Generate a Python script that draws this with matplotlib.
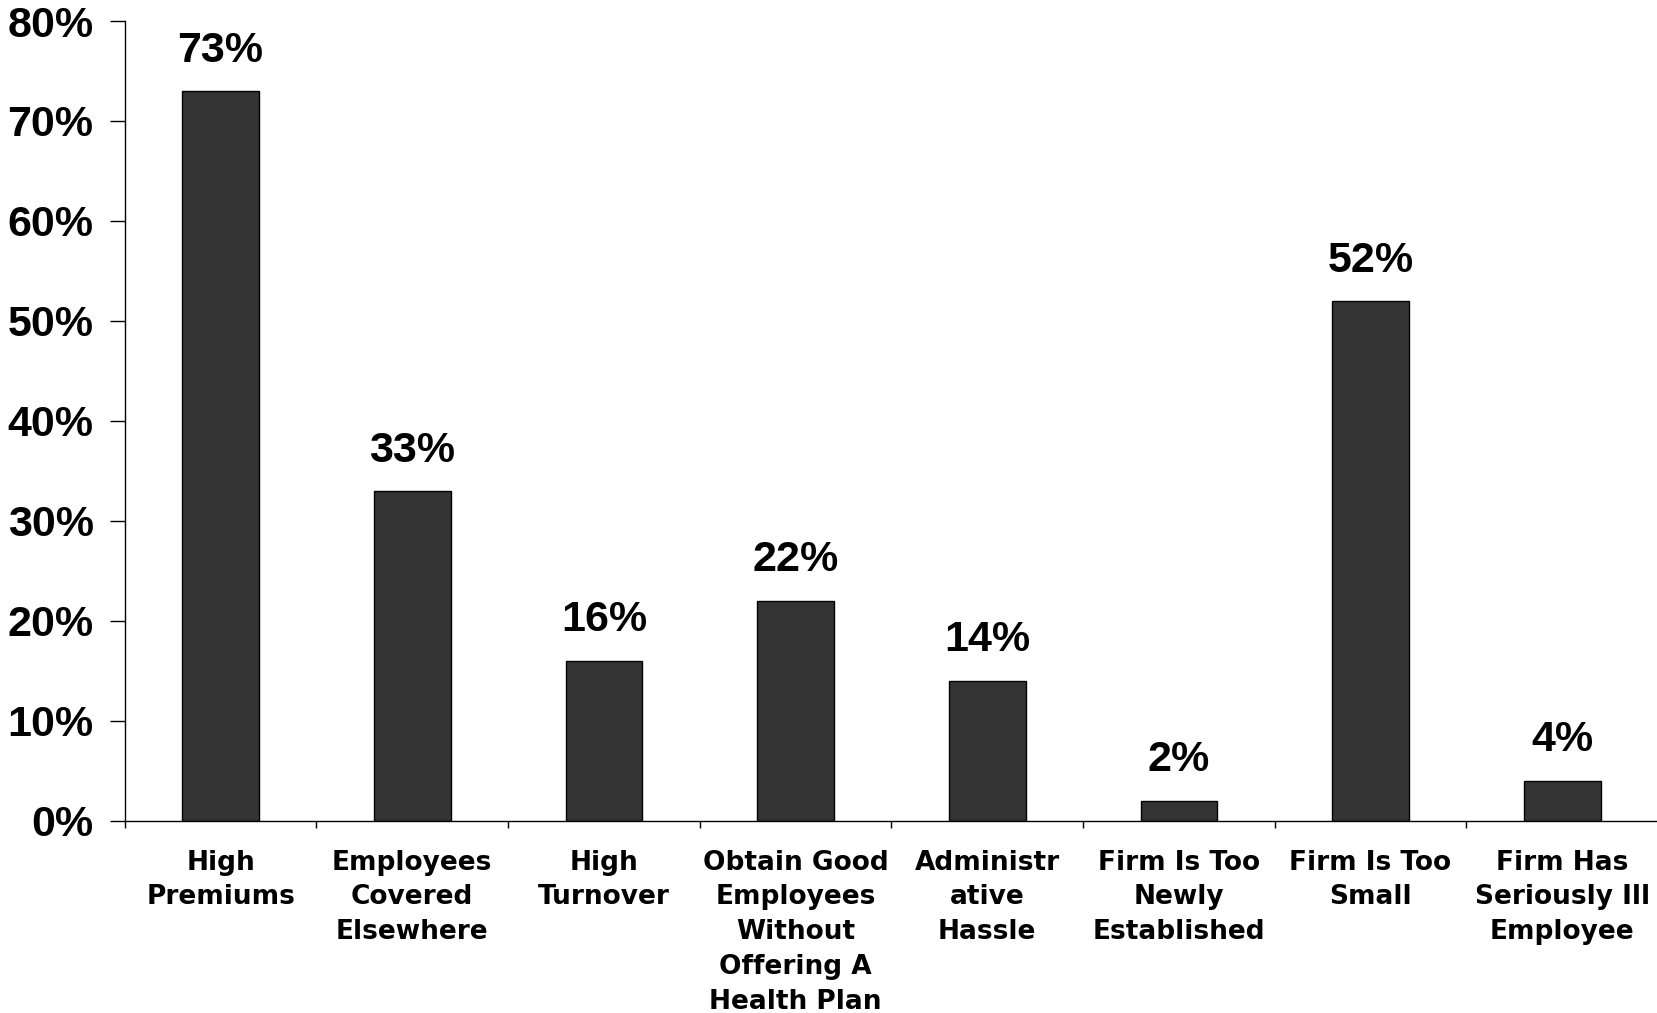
import matplotlib
matplotlib.use("Agg")
import matplotlib.pyplot as plt
from matplotlib.ticker import FixedLocator, FuncFormatter

categories = [
    "High\nPremiums",
    "Employees\nCovered\nElsewhere",
    "High\nTurnover",
    "Obtain Good\nEmployees\nWithout\nOffering A\nHealth Plan",
    "Administr\native\nHassle",
    "Firm Is Too\nNewly\nEstablished",
    "Firm Is Too\nSmall",
    "Firm Has\nSeriously Ill\nEmployee",
]
values = [73, 33, 16, 22, 14, 2, 52, 4]
y_ticks = [0, 10, 20, 30, 40, 50, 60, 70, 80]

W, H, DPI = 1658, 1013, 100
fig = plt.figure(figsize=(W / DPI, H / DPI), dpi=DPI)
ax = fig.add_axes([124.8 / W, 1 - 820.5 / H, 1 - 124.8 / W, (820.5 - 21) / H])

x = list(range(len(values)))
ax.bar(x, values, width=0.4, color="#333333", edgecolor="black", linewidth=1.0, zorder=2)

ax.set_xlim(-0.5, len(values) - 0.5)
ax.set_ylim(0, 80)

for s in ["top", "right"]:
    ax.spines[s].set_visible(False)
for s in ["left", "bottom"]:
    ax.spines[s].set_linewidth(1.0)
    ax.spines[s].set_color("black")

# y axis: percent ticks pointing outward
ax.set_yticks(y_ticks)
ax.yaxis.set_major_formatter(FuncFormatter(lambda v, p: f"{int(v)}%"))
ax.tick_params(axis="y", direction="out", length=10.5, width=1.0, pad=12,
               labelsize=31)
for lab in ax.get_yticklabels():
    lab.set_fontfamily("Liberation Sans")
    lab.set_fontweight("bold")

# x axis: tick marks at category boundaries, labels at centers
ax.set_xticks(x)
ax.set_xticklabels(categories)
ax.tick_params(axis="x", which="major", length=0, pad=21, labelsize=19)
ax.xaxis.set_minor_locator(FixedLocator([i - 0.5 for i in range(len(values) + 1)]))
ax.tick_params(axis="x", which="minor", direction="out", length=5, width=1.0)
for lab in ax.get_xticklabels():
    lab.set_fontfamily("DejaVu Sans")
    lab.set_fontweight("bold")
    lab.set_linespacing(1.44)
    lab.set_verticalalignment("top")

# value labels above the bars
for xi, v in zip(x, values):
    ax.annotate(f"{v}%", xy=(xi, v), xytext=(0, 21), textcoords="offset points",
                ha="center", va="baseline", fontsize=31, fontweight="bold",
                fontfamily="Liberation Sans")

fig.savefig("out.png", dpi=DPI)
